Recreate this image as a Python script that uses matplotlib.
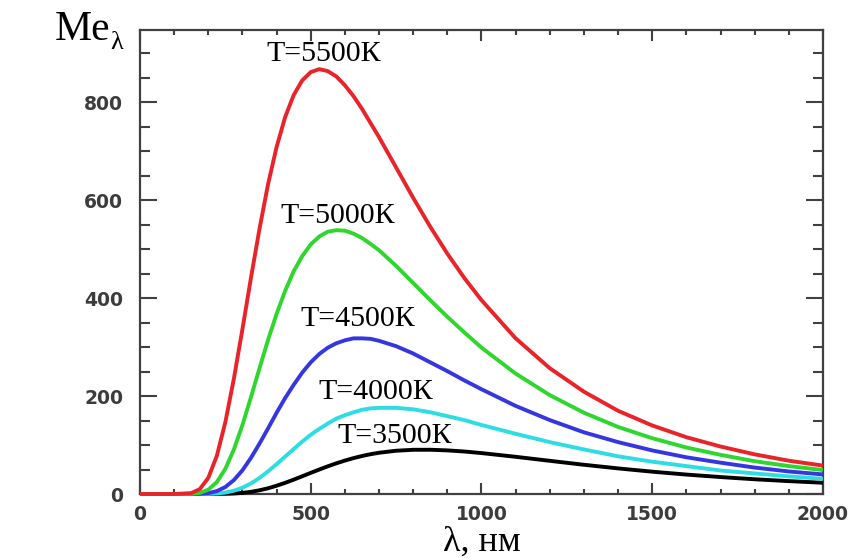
import matplotlib
matplotlib.use("Agg")
import matplotlib.pyplot as plt
from matplotlib.ticker import MultipleLocator

# wavelength, nm
lam = [0, 50, 100, 150, 175, 200, 225, 250, 275, 300, 325, 350, 375, 400, 425, 450, 475,
       500, 525, 550, 575, 600, 625, 650, 675, 700, 750, 800, 850, 900, 950, 1000,
       1100, 1200, 1300, 1400, 1500, 1600, 1700, 1800, 1900, 2000]

me_5500 = [0, 0, 0, 1.8, 9.8, 33, 78, 147, 236, 337, 442, 542, 633, 709, 770, 815, 845,
           862, 868, 864, 853, 835, 813, 787, 758, 729, 667, 605, 546, 491, 441, 396,
           318, 257, 209, 170, 140, 116, 97, 81, 68, 58]
me_5000 = [0, 0, 0, 0.3, 2.2, 8.8, 24.3, 51.5, 91.1, 141, 198, 257, 315, 368, 415, 455, 486,
           510, 526, 536, 539, 538, 532, 523, 511, 498, 466, 431, 396, 362, 330, 299,
           246, 202, 166, 137, 114, 95, 80, 67, 57, 49]
me_4500 = [0, 0, 0, 0, 0.4, 1.8, 5.9, 14.3, 28.5, 48.5, 73.9, 103, 134, 166, 196, 223, 248,
           269, 286, 299, 308, 314, 318, 318, 317, 313, 302, 287, 269, 251, 232, 214,
           180, 151, 126, 106, 89, 75, 64, 54, 46, 40]
me_4000 = [0, 0, 0, 0, 0.1, 0.2, 1.0, 2.9, 6.7, 12.8, 21.6, 32.9, 46.2, 60.9, 76.4, 91.9, 107,
           121, 133, 144, 154, 161, 167, 172, 175, 176, 176, 173, 167, 159, 151, 141,
           123, 106, 91, 77, 66, 57, 48, 42, 36, 31]
me_3500 = [0, 0, 0, 0, 0, 0, 0.1, 0.4, 1.0, 2.3, 4.4, 7.6, 11.7, 16.9, 22.8, 29.3, 36.2,
           43.2, 50.0, 56.6, 62.7, 68.3, 73.3, 77.6, 81.3, 84.3, 88.4, 90.3, 90.4, 89.1, 86.8, 83.6,
           76.0, 67.8, 59.7, 52.3, 45.6, 39.7, 34.6, 30.1, 26.3, 23.0]

temp_labels = ["T=3500К", "T=4000К", "T=4500К", "T=5000К", "T=5500К"]
series = [me_3500, me_4000, me_4500, me_5000, me_5500]
colors = ["#000000", "#2ddde3", "#3636e0", "#2ed62e", "#e8242a"]
label_pos = [(746, 119), (690, 208), (637, 357), (579, 567), (538, 898)]

serif = "Liberation Serif"

fig = plt.figure(figsize=(8.62, 5.58), dpi=100)
ax = fig.add_axes([140 / 862, 1 - 494 / 558, 683 / 862, 464 / 558])

for vals, col in zip(series, colors):
    ax.plot(lam, vals, color=col, lw=2.8, zorder=3, clip_on=False,
            solid_capstyle="butt", solid_joinstyle="round")

for txt, (tx, ty) in zip(temp_labels, label_pos):
    ax.text(tx, ty, txt, ha="center", va="center", fontsize=21.5, family=serif, zorder=4)

ax.set_xlim(0, 2000)
ax.set_ylim(0, 948)
ax.xaxis.set_major_locator(MultipleLocator(500))
ax.xaxis.set_minor_locator(MultipleLocator(100))
ax.yaxis.set_major_locator(MultipleLocator(200))
ax.yaxis.set_minor_locator(MultipleLocator(50))

axis_col = "#404040"
for sp in ax.spines.values():
    sp.set_linewidth(1.6)
    sp.set_color(axis_col)

ax.tick_params(axis="x", which="major", direction="in", length=8, width=1.5,
               top=True, pad=8, color=axis_col)
ax.tick_params(axis="x", which="minor", direction="in", length=3.5, width=1.5,
               top=True, color=axis_col)
ax.tick_params(axis="y", which="major", direction="in", length=12, width=1.5,
               right=True, pad=12, color=axis_col)
ax.tick_params(axis="y", which="minor", direction="in", length=7, width=1.5,
               right=True, color=axis_col)

for lb in ax.get_xticklabels() + ax.get_yticklabels():
    lb.set_fontfamily("DejaVu Sans")
    lb.set_fontweight("bold")
    lb.set_fontsize(13.5)
    lb.set_color("#3c3c3c")

ax.set_xlabel("λ, нм", fontsize=26, family=serif, labelpad=1)

fig.text(55 / 862, 1 - 40 / 558, "Me", fontsize=30, family=serif, va="baseline", ha="left")
fig.text(110 / 862, 1 - 49 / 558, "λ", fontsize=19, family=serif, va="baseline", ha="left")

fig.savefig("out.png", dpi=100)
plt.close(fig)
